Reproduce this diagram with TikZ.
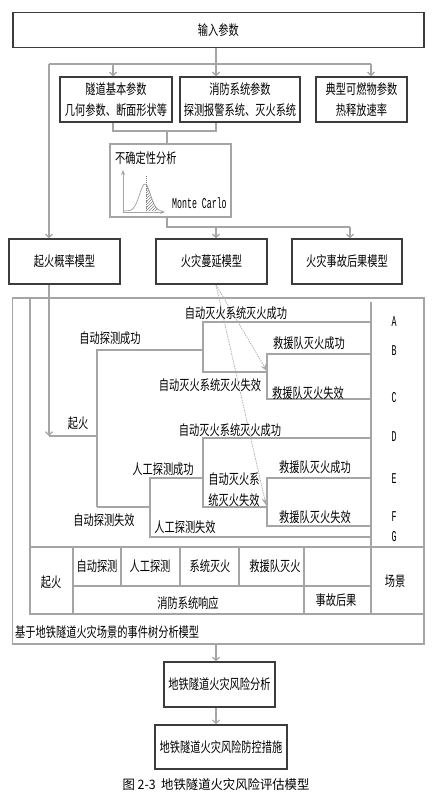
\documentclass[tikz,border=0pt]{standalone}
\usepackage{fontspec}
\setmainfont{Noto Sans CJK SC}[FakeStretch=0.73]
\newfontfamily\capfont{Noto Sans CJK SC}[FakeStretch=0.95]
\newfontfamily\narrowmono{Liberation Mono}[FakeStretch=0.55]
\usetikzlibrary{arrows.meta,positioning,patterns}

\begin{document}
\begin{tikzpicture}[x=1pt,y=-1pt,>={Straight Barb[length=3.5pt,width=7pt]},
    font=\fontsize{14}{21}\selectfont,
    box/.style={draw=cBox,line width=1.3pt,inner sep=0pt,align=center,minimum height=45pt},
    conn/.style={draw=cLine,line width=1.2pt},
    tree/.style={draw=cLine,line width=1.3pt},
    hint/.style={draw=cHint,line width=0.7pt,dash pattern=on 1.5pt off 1pt,-{Stealth[length=7pt,width=6pt]}},
    lbl/.style={inner sep=0pt},
    tag/.style={inner sep=0pt,font=\narrowmono\fontsize{15}{15}\selectfont}]
  \definecolor{cBox}{RGB}{60,60,60}
  \definecolor{cLine}{RGB}{165,165,165}
  \definecolor{cHint}{RGB}{170,170,170}
  \useasboundingbox (0,0) rectangle (439,792);

  % input and parameter boxes
  \node[box,minimum width=411pt,minimum height=35pt] (input) at (218.4,30) {输入参数};
  \node[box,minimum width=112pt] (tunnel) at (116,99.5) {隧道基本参数\\几何参数、断面形状等};
  \node[box,minimum width=120pt] (firesys) at (240,99.5) {消防系统参数\\探测报警系统、灭火系统};
  \node[box,minimum width=91pt] (fuel) at (361.5,99.5) {典型可燃物参数\\热释放速率};

  % uncertainty analysis
  \node[draw=cLine,line width=1.2pt,inner sep=0pt,minimum width=121pt,minimum height=73pt] (unc) at (170.5,180.5) {};
  \node[lbl,anchor=west] (unclbl) at (115,158) {不确定性分析};
  \draw[cLine,line width=0.9pt,-{Stealth[length=5pt,width=4pt]}] (123,212) -- (123,170);
  \draw[cLine,line width=0.9pt,-{Stealth[length=5pt,width=4pt]}] (123,212) -- (165,212);
  \fill[pattern=north east lines,pattern color=gray] (146,211) -- plot[domain=146:158,samples=20] (\x,{211-27*exp(-((\x-145)^2)/60.5)}) -- (158,211) -- cycle;
  \draw[gray,line width=0.5pt,domain=124:160,samples=50] plot (\x,{211-27*exp(-((\x-145)^2)/60.5)});
  \draw[gray,line width=0.4pt,dash pattern=on 1pt off 1pt] (146,176) -- (146,211);
  \node[tag,anchor=west] (mc) at (172,203) {Monte Carlo};

  % model boxes
  \node[box,minimum width=111pt] (prob) at (64.5,261.5) {起火概率模型};
  \node[box,minimum width=111pt] (spread) at (211.5,261.5) {火灾蔓延模型};
  \node[box,minimum width=110pt] (result) at (347,261.5) {火灾事故后果模型};

  % connectors, upper part
  \coordinate (hub) at (216,64);
  \coordinate (tw) at (49,64);
  \coordinate (t1) at (113,64);
  \coordinate (t3) at (371,64);
  \coordinate (mg) at (167,131);
  \coordinate (sp) at (167,227);
  \coordinate (t5) at (350,227);
  \draw[conn] (hub |- input.south) -- (hub);
  \draw[conn] (tw) -- (t3);
  \draw[conn,->] (t1) -- (t1 |- tunnel.north);
  \draw[conn,->] (hub) -- (hub |- firesys.north);
  \draw[conn,->] (t3) -- (t3 |- fuel.north);
  \draw[conn,->] (tw) -- (tw |- prob.north);
  \draw[conn] (t1 |- tunnel.south) -- (t1 |- mg) -- (hub |- mg) -- (hub |- firesys.south);
  \draw[conn] (mg) -- (mg |- unc.north);
  \draw[conn] (sp |- unc.south) -- (sp) -- (t5);
  \draw[conn,->] (hub |- sp) -- (hub |- spread.north);
  \draw[conn,->] (t5) -- (t5 |- result.north);

  % event tree frame and table
  \node[draw=cLine,line width=1.2pt,inner sep=0pt,minimum width=411.3pt,minimum height=346pt] (etree) at (218.35,471) {};
  \draw[tree] (30,298) -- (30,614) -- (424,614);
  \draw[tree] (371,302) -- (371,614);
  \draw[tree] (30,547) -- (424,547);
  \draw[tree] (73,547) -- (73,614);
  \draw[tree] (304,547) -- (304,614);
  \draw[tree] (73,586) -- (371,586);
  \foreach \c in {121,180,239}
    \draw[tree] (\c,547) -- (\c,586);

  % event tree branches
  \coordinate (ign) at (49,436);
  \draw[conn,->] (tw |- prob.south) -- (ign);
  \draw[tree] (ign) -- (97,436);
  \draw[tree] (97,507) -- (97,350) -- (203,350);
  \draw[tree] (371,322) -- (203,322) -- (203,372) -- (267,372);
  \draw[tree] (371,354) -- (267,354) -- (267,399) -- (371,399);
  \draw[tree] (97,507) -- (150,507);
  \draw[tree] (203,478) -- (150,478) -- (150,537) -- (371,537);
  \draw[tree] (371,438) -- (203,438) -- (203,507) -- (267,507);
  \draw[tree] (371,478) -- (267,478) -- (267,526) -- (371,526);

  % hints from the spread model
  \coordinate (hs) at (216,285);
  \draw[hint] (hs) -- (267,371);
  \draw[hint] (hs) -- (266,505);

  % branch labels
  \node[lbl] (lA) at (236,313) {自动灭火系统灭火成功};
  \node[lbl] (lDet) at (110,338) {自动探测成功};
  \node[lbl] (lB) at (309,343) {救援队灭火成功};
  \node[lbl] (lFail) at (210,385) {自动灭火系统灭火失效};
  \node[lbl] (lC) at (308,393) {救援队灭火失效};
  \node[lbl] (lIgn) at (78,423) {起火};
  \node[lbl] (lD) at (230,430) {自动灭火系统灭火成功};
  \node[lbl] (lMan) at (163,469) {人工探测成功};
  \node[lbl,align=center] (lFail2) at (234,489.5) {自动灭火系\\统灭火失效};
  \node[lbl] (lE) at (315,467) {救援队灭火成功};
  \node[lbl] (lNoDet) at (104,520) {自动探测失效};
  \node[lbl] (lF) at (315,517) {救援队灭火失效};
  \node[lbl] (lNoMan) at (185,527) {人工探测失效};
  \foreach \s/\y in {A/322,B/351,C/398,D/437,E/479,F/517,G/537}
    \node[tag] (s\s) at (394,\y) {\s};

  % table header
  \node[lbl] (hIgn) at (51,582) {起火};
  \node[lbl] (hAuto) at (97,566) {自动探测};
  \node[lbl] (hMan) at (150,566) {人工探测};
  \node[lbl] (hSys) at (210,566) {系统灭火};
  \node[lbl] (hRes) at (275,566) {救援队灭火};
  \node[lbl] (hResp) at (188,603) {消防系统响应};
  \node[lbl] (hCons) at (336,600) {事故后果};
  \node[lbl] (hScen) at (395,581) {场景};
  \node[lbl,anchor=west] (etcap) at (15,632) {基于地铁隧道火灾场景的事件树分析模型};

  % risk analysis and measures
  \node[box,minimum width=111pt] (analysis) at (219.5,684.5) {地铁隧道火灾风险分析};
  \node[box,minimum width=132pt,minimum height=44pt,line width=1.6pt] (measure) at (221,747) {地铁隧道火灾风险防控措施};
  \draw[conn,->] (hub |- etree.south) -- (hub |- analysis.north);
  \draw[conn,->] (hub |- analysis.south) -- (hub |- measure.north);

  \node[lbl,font=\capfont\fontsize{13}{13}\selectfont] (figcap) at (216,785) {图 2-3\ \ 地铁隧道火灾风险评估模型};
\end{tikzpicture}
\end{document}
